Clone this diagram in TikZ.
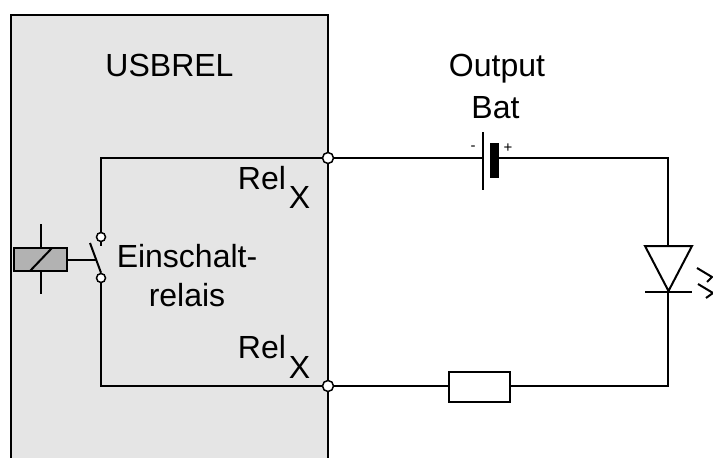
\documentclass[tikz,border=0pt]{standalone}
\usepackage{fontspec}
\setmainfont{Liberation Sans}
\tikzset{
  wire/.style={line width=2pt,black},
  term/.style={circle,draw=black,fill=white,line width=1.5pt,minimum size=9pt,inner sep=0pt},
  lbl/.style={inner sep=0pt,font=\fontsize{32}{34}\selectfont,anchor=base},
  pm/.style={inner sep=0pt,font=\fontsize{15}{16}\selectfont,anchor=center}
}
\begin{document}
\begin{tikzpicture}[x=1pt,y=-1pt]
\useasboundingbox (0,0) rectangle (713,458);
\begin{scope}
\clip (0,0) rectangle (713,458);
\fill[black!10] (11,15) rectangle (328,470);
\draw[line width=2pt] (11,470) -- (11,15) -- (328,15) -- (328,470);

\node[term,minimum size=11pt] (t1) at (328,158) {};
\node[term,minimum size=11pt] (t2) at (328,386) {};
\node[term] (c1) at (101,237) {};
\node[term] (c2) at (101,278) {};
\coordinate (bl) at (101,158);
\coordinate (br) at (101,386);
\coordinate (tr) at (668,158);
\coordinate (dtop) at (668,246);
\coordinate (dtip) at (668,291);
\coordinate (rr) at (668,386);
\coordinate (bA) at (483,158);
\coordinate (bB) at (499,158);

\node[draw=black,fill=white,line width=2pt,minimum width=61pt,minimum height=30pt,inner sep=0pt,outer sep=0pt] (res) at (479.5,386.5) {};

\draw[wire] (c1.north) -- (bl) -- (t1.west);
\draw[wire] (t1.east) -- (bA);
\draw[wire] (bB) -- (tr) -- (dtop);
\draw[wire] (c2.south) -- (br) -- (t2.west);
\draw[wire] (t2.east) -- (res.west |- t2.east);
\draw[wire] (res.east |- rr) -- (rr) -- (dtip);

% battery
\draw[line width=2pt] (483,132) -- (483,190);
\fill (490,143) rectangle (499,178);
\node[pm] (minus) at (473,148) {-};
\node[pm] (plus) at (508,148) {+};

% diode
\draw[line width=2pt,line join=miter] (645,246) -- (692,246) -- (668.5,291) -- cycle;
\draw[line width=2pt] (645,291.5) -- (692,291.5);
% light rays
\draw[line width=2pt] (697,268) -- (712,277) -- (707,282);
\draw[line width=2pt] (698,284) -- (713,293) -- (706,298);

% relay
\draw[line width=2pt] (40.5,224) -- (40.5,294);
\node[draw=black,fill=black!30,line width=2pt,minimum width=53pt,minimum height=23pt,inner sep=0pt,outer sep=0pt] (coil) at (40.5,259.5) {};
\draw[line width=2pt] (30,271) -- (52,248);
\draw[line width=2pt] (coil.east) -- (96,259.5);
\draw[line width=2pt] (90,243) -- (c2.north);
\draw[wire] (c1.south) -- (101,246);

% texts
\node[lbl] (usb) at (169.5,76) {USBREL};
\node[lbl] (out) at (497,76) {Output};
\node[lbl] (bat) at (495.5,118) {Bat};
\node[lbl] (ein) at (187,267) {Einschalt-};
\node[lbl] (rel) at (187,306) {relais};
\node[lbl] (r1) at (262,189) {Rel};
\node[lbl] (x1) at (299.5,208) {X};
\node[lbl] (r2) at (262,358) {Rel};
\node[lbl] (x2) at (299.5,378) {X};
\end{scope}
\end{tikzpicture}
\end{document}
